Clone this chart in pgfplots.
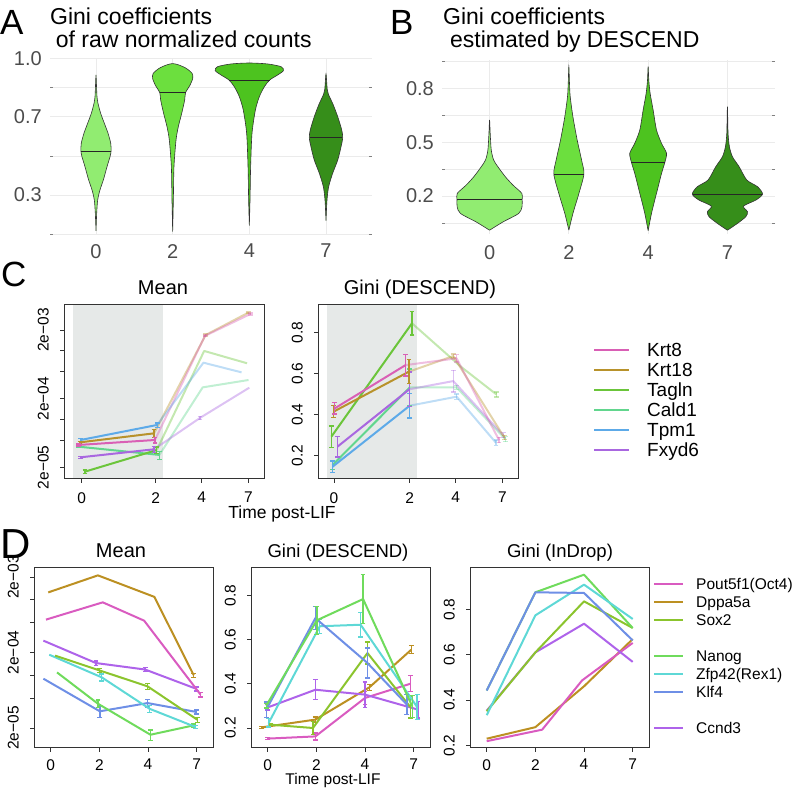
\documentclass[border=0pt]{standalone}
\usepackage{fontspec}
\setmainfont{Liberation Sans}
\usepackage{pgfplots}
\usepackage{pgfplotstable}
\pgfplotsset{compat=1.18}

% violin fills
\definecolor{vzero}{HTML}{91EC71}
\definecolor{vtwo}{HTML}{6CDF3E}
\definecolor{vfour}{HTML}{4DC31F}
\definecolor{vseven}{HTML}{368E1A}
\definecolor{gridc}{HTML}{EBEBEB}
\definecolor{shade}{HTML}{E6E9E8}
% panel C genes
\definecolor{krta}{HTML}{D95FB5}
\definecolor{krtb}{HTML}{B8922B}
\definecolor{tagln}{HTML}{6BC53A}
\definecolor{cald}{HTML}{62D68E}
\definecolor{tpm}{HTML}{5DAAE8}
\definecolor{fxyd}{HTML}{A967E0}
% panel D genes
\definecolor{pou}{HTML}{D95BC0}
\definecolor{dppa}{HTML}{BC9022}
\definecolor{sox}{HTML}{8BC42D}
\definecolor{nanog}{HTML}{6FDB5C}
\definecolor{zfp}{HTML}{5ED8D6}
\definecolor{klf}{HTML}{6E8FE6}
\definecolor{ccnd}{HTML}{AE63EA}

\newcommand{\fs}[1]{\fontsize{#1bp}{#1bp}\selectfont}

% violin outlines: value v, half width w (category units), side s
% (right side going up, then left side coming down)
\pgfplotstableread[row sep=\\]{
v w s\\
0.116 0 1\\ 0.206 0.009 1\\ 0.274 0.022 1\\ 0.326 0.052 1\\ 0.377 0.096 1\\ 0.445 0.144 1\\
0.496 0.183 1\\ 0.525 0.197 1\\ 0.565 0.192 1\\ 0.616 0.157 1\\ 0.667 0.109 1\\ 0.718 0.061 1\\
0.769 0.026 1\\ 0.804 0.013 1\\ 0.855 0.007 1\\ 0.915 0 1\\
0.855 0.007 -1\\ 0.804 0.013 -1\\ 0.769 0.026 -1\\ 0.718 0.061 -1\\ 0.667 0.109 -1\\ 0.616 0.157 -1\\
0.565 0.192 -1\\ 0.525 0.197 -1\\ 0.496 0.183 -1\\ 0.445 0.144 -1\\ 0.377 0.096 -1\\ 0.326 0.052 -1\\
0.274 0.022 -1\\ 0.206 0.009 -1\\ 0.116 0 -1\\
}\vAa
\pgfplotstableread[row sep=\\]{
v w s\\
0.112 0 1\\ 0.274 0.009 1\\ 0.445 0.017 1\\ 0.582 0.044 1\\ 0.650 0.074 1\\ 0.718 0.118 1\\
0.787 0.157 1\\ 0.824 0.168 1\\ 0.863 0.227 1\\ 0.898 0.262 1\\ 0.923 0.253 1\\ 0.949 0.175 1\\
0.966 0.079 1\\ 0.973 0 1\\
0.966 0.079 -1\\ 0.949 0.175 -1\\ 0.923 0.253 -1\\ 0.898 0.262 -1\\ 0.863 0.227 -1\\ 0.824 0.168 -1\\
0.787 0.157 -1\\ 0.718 0.118 -1\\ 0.650 0.074 -1\\ 0.582 0.044 -1\\ 0.445 0.017 -1\\ 0.274 0.009 -1\\
0.112 0 -1\\
}\vAb
\pgfplotstableread[row sep=\\]{
v w s\\
0.143 0 1\\ 0.274 0.009 1\\ 0.445 0.017 1\\ 0.616 0.035 1\\ 0.735 0.079 1\\ 0.804 0.131 1\\
0.855 0.197 1\\ 0.889 0.266 1\\ 0.915 0.371 1\\ 0.937 0.445 1\\ 0.957 0.415 1\\ 0.971 0.240 1\\
0.976 0 1\\
0.971 0.240 -1\\ 0.957 0.415 -1\\ 0.937 0.445 -1\\ 0.915 0.371 -1\\ 0.889 0.266 -1\\ 0.855 0.197 -1\\
0.804 0.131 -1\\ 0.735 0.079 -1\\ 0.616 0.035 -1\\ 0.445 0.017 -1\\ 0.274 0.009 -1\\ 0.143 0 -1\\
}\vAc
\pgfplotstableread[row sep=\\]{
v w s\\
0.168 0 1\\ 0.274 0.013 1\\ 0.343 0.035 1\\ 0.411 0.087 1\\ 0.479 0.153 1\\ 0.548 0.197 1\\
0.594 0.218 1\\ 0.633 0.205 1\\ 0.701 0.153 1\\ 0.769 0.087 1\\ 0.804 0.044 1\\ 0.838 0.017 1\\
0.920 0 1\\
0.838 0.017 -1\\ 0.804 0.044 -1\\ 0.769 0.087 -1\\ 0.701 0.153 -1\\ 0.633 0.205 -1\\ 0.594 0.218 -1\\
0.548 0.197 -1\\ 0.479 0.153 -1\\ 0.411 0.087 -1\\ 0.343 0.035 -1\\ 0.274 0.013 -1\\ 0.168 0 -1\\
}\vAd
\pgfplotstableread[row sep=\\]{
v w s\\
0.010 0 1\\ 0.056 0.169 1\\ 0.103 0.367 1\\ 0.140 0.409 1\\ 0.181 0.411 1\\ 0.215 0.407 1\\
0.261 0.295 1\\ 0.308 0.198 1\\ 0.363 0.105 1\\ 0.401 0.051 1\\ 0.457 0.021 1\\ 0.549 0.008 1\\
0.624 0 1\\
0.549 0.008 -1\\ 0.457 0.021 -1\\ 0.401 0.051 -1\\ 0.363 0.105 -1\\ 0.308 0.198 -1\\ 0.261 0.295 -1\\
0.215 0.407 -1\\ 0.181 0.411 -1\\ 0.140 0.409 -1\\ 0.103 0.367 -1\\ 0.056 0.169 -1\\ 0.010 0 -1\\
}\vBa
\pgfplotstableread[row sep=\\]{
v w s\\
0.010 0 1\\ 0.103 0.051 1\\ 0.215 0.127 1\\ 0.323 0.190 1\\ 0.401 0.160 1\\ 0.512 0.105 1\\
0.642 0.051 1\\ 0.754 0.017 1\\ 0.828 0.008 1\\ 0.921 0 1\\
0.828 0.008 -1\\ 0.754 0.017 -1\\ 0.642 0.051 -1\\ 0.512 0.105 -1\\ 0.401 0.160 -1\\ 0.323 0.190 -1\\
0.215 0.127 -1\\ 0.103 0.051 -1\\ 0.010 0 -1\\
}\vBb
\pgfplotstableread[row sep=\\]{
v w s\\
0.007 0 1\\ 0.103 0.042 1\\ 0.215 0.105 1\\ 0.326 0.169 1\\ 0.388 0.211 1\\ 0.438 0.232 1\\
0.493 0.169 1\\ 0.568 0.105 1\\ 0.679 0.063 1\\ 0.772 0.025 1\\ 0.846 0.008 1\\ 0.921 0 1\\
0.846 0.008 -1\\ 0.772 0.025 -1\\ 0.679 0.063 -1\\ 0.568 0.105 -1\\ 0.493 0.169 -1\\ 0.438 0.232 -1\\
0.388 0.211 -1\\ 0.326 0.169 -1\\ 0.215 0.105 -1\\ 0.103 0.042 -1\\ 0.007 0 -1\\
}\vBc
\pgfplotstableread[row sep=\\]{
v w s\\
0.010 0 1\\ 0.048 0.127 1\\ 0.085 0.232 1\\ 0.113 0.253 1\\ 0.144 0.203 1\\ 0.178 0.360 1\\
0.211 0.443 1\\ 0.252 0.380 1\\ 0.289 0.245 1\\ 0.363 0.148 1\\ 0.419 0.063 1\\ 0.475 0.025 1\\
0.549 0.008 1\\ 0.698 0 1\\
0.549 0.008 -1\\ 0.475 0.025 -1\\ 0.419 0.063 -1\\ 0.363 0.148 -1\\ 0.289 0.245 -1\\ 0.252 0.380 -1\\
0.211 0.443 -1\\ 0.178 0.360 -1\\ 0.144 0.203 -1\\ 0.113 0.253 -1\\ 0.085 0.232 -1\\ 0.048 0.127 -1\\
0.010 0 -1\\
}\vBd

\pgfplotsset{
  vax/.style={scale only axis, anchor=north west, axis line style={draw=none}, major tick length=0pt,
    xmin=0.4, xmax=4.6, xtick={1,2,3,4}, xticklabels={0,2,4,7},
    xmajorgrids, ymajorgrids, yminorgrids,
    major grid style={gridc, line width=0.8bp}, minor grid style={gridc, line width=0.5bp},
    tick label style={font=\fs{20}, text=black!70, inner sep=0pt},
    yticklabel style={anchor=east, xshift=-8bp},
    xticklabel style={anchor=north, yshift=-10bp}},
  vbody/.style={draw=black!80, line width=0.6bp, smooth, tension=0.45},
  vmed/.style={black!85, line width=0.7bp},
  rax/.style={scale only axis, anchor=north west, axis on top, tick pos=left, tick align=outside,
    major tick length=4bp, xminorticks=false, yminorticks=false,
    axis line style={black!80, line width=1bp}, every tick/.style={black!80, line width=0.9bp},
    tick label style={font=\fs{15.5}, inner sep=0pt},
    yticklabel style={xshift=-11bp, rotate=90, anchor=south},
    xticklabel style={anchor=north, yshift=-8bp},
    every axis plot/.append style={mark=none, line width=2bp, line join=round}},
  g/.style={forget plot, color=#1},
  eb/.style={error bars/y dir=both, error bars/y explicit,
    error bars/error bar style={line width=1.3bp},
    error bars/error mark options={rotate=90, mark size=2.4bp, line width=1.3bp}},
  fade/.style={opacity=0.4},
  leg/.style={legend cell align=left,
    legend image code/.code={\draw[##1, line width=2.2bp] (0bp,0bp) -- (#1,0bp);}},
}

\begin{document}
\begin{tikzpicture}
\path[use as bounding box] (0,0) rectangle (796bp,-789bp);

% ---------- A ----------
\begin{axis}[vax, at={(50bp,-58.3bp)}, width=322bp, height=175.7bp,
  ymin=0.1, ymax=1.0, ytick={0.3,0.7,1.0}, yticklabels={0.3,0.7,1.0}, minor ytick={0.1,0.5,0.85}]
\addplot[vbody, fill=vzero] table[x expr=1+\thisrow{s}*\thisrow{w}, y=v]{\vAa};
\addplot[vmed] coordinates {(0.803,0.525) (1.197,0.525)};
\addplot[vbody, fill=vtwo] table[x expr=2+\thisrow{s}*\thisrow{w}, y=v]{\vAb};
\addplot[vmed] coordinates {(1.832,0.824) (2.168,0.824)};
\addplot[vbody, fill=vfour] table[x expr=3+\thisrow{s}*\thisrow{w}, y=v]{\vAc};
\addplot[vmed] coordinates {(2.734,0.889) (3.266,0.889)};
\addplot[vbody, fill=vseven] table[x expr=4+\thisrow{s}*\thisrow{w}, y=v]{\vAd};
\addplot[vmed] coordinates {(3.788,0.594) (4.212,0.594)};
\end{axis}

% ---------- B ----------
\begin{axis}[vax, at={(442bp,-59.5bp)}, width=333bp, height=174.3bp,
  ymin=-0.01, ymax=0.96, ytick={0.2,0.5,0.8}, yticklabels={0.2,0.5,0.8}, minor ytick={0.05,0.35,0.65,0.95},
  xticklabel style={yshift=-2bp}]
\addplot[vbody, fill=vzero] table[x expr=1+\thisrow{s}*\thisrow{w}, y=v]{\vBa};
\addplot[vmed] coordinates {(0.59,0.181) (1.41,0.181)};
\addplot[vbody, fill=vtwo] table[x expr=2+\thisrow{s}*\thisrow{w}, y=v]{\vBb};
\addplot[vmed] coordinates {(1.81,0.323) (2.19,0.323)};
\addplot[vbody, fill=vfour] table[x expr=3+\thisrow{s}*\thisrow{w}, y=v]{\vBc};
\addplot[vmed] coordinates {(2.789,0.388) (3.211,0.388)};
\addplot[vbody, fill=vseven] table[x expr=4+\thisrow{s}*\thisrow{w}, y=v]{\vBd};
\addplot[vmed] coordinates {(3.57,0.211) (4.43,0.211)};
\end{axis}

% ---------- C: mean ----------
\begin{axis}[rax, at={(64bp,-304.5bp)}, width=200bp, height=174bp,
  xmin=-0.478, xmax=4.927, xtick={0,2,3.243,4.503}, xticklabels={0,2,4,7},
  xticklabel style={yshift=-1.5bp},
  ymode=log, ymin=1.374e-5, ymax=4.70e-3,
  ytick={2e-5,5e-5,1e-4,2e-4,5e-4,1e-3,2e-3}, yticklabels={2e−05,,,2e−04,,,2e−03}]
\addplot[forget plot, fill=shade, draw=none] coordinates {(-0.243,1e-6) (2.19,1e-6) (2.19,1) (-0.243,1)};
% days 4 and 7, faded
\addplot[g=krtb, eb, fade] coordinates {(1.955,6.25e-5) (3.35,1.69e-3) +- (0,0.05e-3) (4.50,3.57e-3) +- (0,0.1e-3)};
\addplot[g=krta, eb, fade] coordinates {(1.98,5.0e-5) (3.33,1.64e-3) +- (0,0.05e-3) (4.56,3.42e-3) +- (0,0.1e-3)};
\addplot[g=tagln, eb, fade] coordinates {(2.03,3.57e-5) (3.31,9.9e-4) (4.47,6.55e-4)};
\addplot[g=cald, eb, fade] coordinates {(2.10,3.03e-5) (3.27,2.92e-4) (4.51,3.74e-4)};
\addplot[g=tpm, eb, fade] coordinates {(2.04,8.28e-5) (3.29,6.68e-4) (4.32,4.83e-4)};
\addplot[g=fxyd, eb, fade] coordinates {(1.955,3.66e-5) (3.20,1.05e-4) +- (0,0.06e-4) (4.53,2.89e-4)};
% days 0 and 2
\addplot[g=cald, eb] coordinates {(-0.09,4.0e-5) +- (0,0.15e-5) (2.10,3.03e-5) +- (0,0.4e-5)};
\addplot[g=tagln, eb] coordinates {(0.09,1.73e-5) +- (0,0.1e-5) (2.03,3.57e-5) +- (0,0.4e-5)};
\addplot[g=fxyd, eb] coordinates {(-0.027,2.8e-5) +- (0,0.1e-5) (1.955,3.66e-5) +- (0,0.4e-5)};
\addplot[g=tpm, eb] coordinates {(-0.027,5.0e-5) +- (0,0.2e-5) (2.04,8.28e-5) +- (0,0.6e-5)};
\addplot[g=krtb, eb] coordinates {(-0.045,4.62e-5) +- (0,0.15e-5) (1.955,6.25e-5) +- (0,0.8e-5)};
\addplot[g=krta, eb] coordinates {(-0.09,4.23e-5) +- (0,0.15e-5) (1.98,5.0e-5) +- (0,0.5e-5)};
\end{axis}

% ---------- C: Gini ----------
\begin{axis}[rax, at={(318bp,-304.5bp)}, width=200bp, height=174bp,
  xmin=-0.423, xmax=4.861, xtick={0,2,3.215,4.447}, xticklabels={0,2,4,7},
  xticklabel style={yshift=-1.5bp},
  ymin=0.0888, ymax=0.9376, ytick={0.2,0.4,0.6,0.8}, yticklabels={0.2,0.4,0.6,0.8},
  leg=35bp,
  legend style={at={(1.375,0.7955)}, anchor=north west, draw=none, fill=none, inner sep=0pt, outer sep=0pt,
    row sep=0pt, column sep=17bp, font=\fs{19},
    nodes={inner sep=0pt, text height=16.5bp, text depth=3.5bp}}]
\addplot[forget plot, fill=shade, draw=none] coordinates {(-0.19,0) (2.18,0) (2.18,1) (-0.19,1)};
\addplot[g=tagln, eb, fade] coordinates {(2.06,0.846) (3.36,0.633) (4.29,0.499) +- (0,0.012)};
\addplot[g=cald, eb, fade] coordinates {(2.0,0.533) (3.24,0.533) +- (0,0.01) (4.53,0.280) +- (0,0.012)};
\addplot[g=tpm, eb, fade] coordinates {(2.0,0.444) (3.24,0.488) +- (0,0.013) (4.28,0.263) +- (0,0.013)};
\addplot[g=fxyd, eb, fade] coordinates {(1.99,0.524) (3.15,0.564) +- (0,0.053) (4.47,0.300) +- (0,0.012)};
\addplot[g=krtb, eb, fade] coordinates {(1.98,0.610) (3.15,0.686) +- (0,0.01) (4.50,0.289) +- (0,0.01)};
\addplot[g=krta, eb, fade] coordinates {(1.89,0.642) (3.24,0.675) +- (0,0.018) (4.36,0.276) +- (0,0.013)};
\addplot[g=cald, eb] coordinates {(-0.04,0.154) +- (0,0.02) (2.0,0.533) +- (0,0.09)};
\addplot[g=tpm, eb] coordinates {(-0.04,0.146) +- (0,0.028) (2.0,0.444) +- (0,0.06)};
\addplot[g=fxyd, eb] coordinates {(0.09,0.244) +- (0,0.05) (1.99,0.524) +- (0,0.085)};
\addplot[g=tagln, eb] coordinates {(-0.07,0.293) +- (0,0.052) (2.06,0.846) +- (0,0.057)};
\addplot[g=krtb, eb] coordinates {(-0.01,0.415) +- (0,0.03) (1.98,0.610) +- (0,0.058)};
\addplot[g=krta, eb] coordinates {(0.02,0.431) +- (0,0.028) (1.89,0.642) +- (0,0.053)};
\addlegendimage{krta}\addlegendentry{Krt8}
\addlegendimage{krtb}\addlegendentry{Krt18}
\addlegendimage{tagln}\addlegendentry{Tagln}
\addlegendimage{cald}\addlegendentry{Cald1}
\addlegendimage{tpm}\addlegendentry{Tpm1}
\addlegendimage{fxyd}\addlegendentry{Fxyd6}
\end{axis}

% ---------- D: mean ----------
\begin{axis}[rax, at={(34bp,-567bp)}, width=179.3bp, height=180.5bp,
  xmin=-0.343, xmax=3.341, xtick={0,1,2,3}, xticklabels={0,2,4,7},
  xticklabel style={yshift=0.5bp},
  ymode=log, ymin=1.104e-5, ymax=2.71e-3,
  ytick={2e-5,5e-5,1e-4,2e-4,5e-4,1e-3,2e-3}, yticklabels={2e−05,,,2e−04,,,2e−03}]
\addplot[g=klf, eb] coordinates {(-0.15,9.0e-5) (1.01,3.33e-5) +- (0,0.6e-5) (1.99,4.28e-5) +- (0,0.5e-5) (3.0,3.26e-5) +- (0,0.2e-5)};
\addplot[g=nanog, eb] coordinates {(0.13,1.09e-4) (0.97,4.2e-5) +- (0,0.5e-5) (2.05,1.63e-5) +- (0,0.25e-5) (2.94,2.17e-5) +- (0,0.1e-5)};
\addplot[g=zfp, eb] coordinates {(-0.03,1.87e-4) (1.05,9.37e-5) +- (0,1e-5) (2.03,3.6e-5) +- (0,0.4e-5) (2.98,2.06e-5) +- (0,0.1e-5)};
\addplot[g=sox, eb] coordinates {(0.09,1.82e-4) (1.0,1.16e-4) +- (0,0.8e-5) (1.99,7.13e-5) +- (0,0.6e-5) (3.01,2.58e-5) +- (0,0.2e-5)};
\addplot[g=ccnd, eb] coordinates {(-0.15,2.87e-4) (0.93,1.45e-4) +- (0,0.1e-4) (1.94,1.19e-4) +- (0,0.08e-4) (3.0,6.58e-5) +- (0,0.4e-5)};
\addplot[g=pou, eb] coordinates {(-0.097,5.45e-4) (1.07,9.23e-4) (1.92,5.28e-4) (3.08,5.53e-5) +- (0,0.4e-5)};
\addplot[g=dppa, eb] coordinates {(-0.05,1.25e-3) (0.97,2.10e-3) (2.13,1.09e-3) (2.94,9.98e-5) +- (0,0.6e-5)};
\end{axis}

% ---------- D: Gini (DESCEND) ----------
\begin{axis}[rax, at={(251bp,-567bp)}, width=179.3bp, height=180.5bp,
  xmin=-0.343, xmax=3.341, xtick={0,1,2,3}, xticklabels={0,2,4,7},
  xticklabel style={yshift=0.5bp},
  ymin=0.1118, ymax=0.928, ytick={0.2,0.4,0.6,0.8}, yticklabels={0.2,0.4,0.6,0.8}]
\addplot[g=pou, eb] coordinates {(0.0,0.152) +- (0,0.005) (0.98,0.162) +- (0,0.016) (2.0,0.336) +- (0,0.03) (2.93,0.40) +- (0,0.036)};
\addplot[g=dppa, eb] coordinates {(-0.12,0.203) +- (0,0.005) (0.98,0.238) +- (0,0.012) (2.09,0.384) +- (0,0.013) (2.95,0.554) +- (0,0.018)};
\addplot[g=ccnd, eb] coordinates {(0.0,0.293) +- (0,0.012) (0.98,0.373) +- (0,0.045) (2.0,0.351) +- (0,0.057) (3.09,0.283) +- (0,0.038)};
\addplot[g=sox, eb] coordinates {(0.05,0.215) +- (0,0.005) (0.93,0.200) +- (0,0.028) (2.05,0.539) +- (0,0.05) (2.93,0.295) +- (0,0.05)};
\addplot[g=zfp, eb] coordinates {(0.02,0.223) +- (0,0.019) (1.07,0.660) +- (0,0.032) (1.91,0.667) +- (0,0.055) (3.07,0.295) +- (0,0.056)};
\addplot[g=klf, eb] coordinates {(-0.03,0.283) +- (0,0.034) (0.98,0.697) +- (0,0.053) (2.05,0.494) +- (0,0.068) (2.86,0.306) +- (0,0.045)};
\addplot[g=nanog, eb] coordinates {(-0.03,0.301) +- (0,0.01) (1.01,0.687) +- (0,0.063) (1.96,0.783) +- (0,0.11) (2.97,0.298) +- (0,0.05)};
\end{axis}

% ---------- D: Gini (InDrop) ----------
\begin{axis}[rax, at={(470bp,-567bp)}, width=179.3bp, height=180.5bp,
  xmin=-0.343, xmax=3.341, xtick={0,1,2,3}, xticklabels={0,2,4,7},
  xticklabel style={yshift=0.5bp},
  ymin=0.190, ymax=0.989, ytick={0.2,0.4,0.6,0.8}, yticklabels={0.2,0.4,0.6,0.8},
  leg=29bp,
  legend style={at={(1.0206,0.9557)}, anchor=north west, draw=none, fill=none, inner sep=0pt, outer sep=0pt,
    row sep=0pt, column sep=12bp, font=\fs{15.5},
    nodes={inner sep=0pt, text height=14.5bp, text depth=3.5bp}}]
\addplot[g=dppa] coordinates {(0,0.229) (1,0.280) (2,0.461) (3,0.670)};
\addplot[g=pou] coordinates {(0,0.218) (1.14,0.269) (1.96,0.487) (3,0.653)};
\addplot[g=ccnd] coordinates {(0,0.353) (1,0.611) (2,0.738) (3,0.569)};
\addplot[g=sox] coordinates {(0,0.350) (1,0.611) (2,0.837) (3,0.719)};
\addplot[g=nanog] coordinates {(0,0.442) (1,0.877) (2,0.955) (3,0.719)};
\addplot[g=zfp] coordinates {(0,0.333) (1,0.775) (2,0.911) (3,0.759)};
\addplot[g=klf] coordinates {(0,0.442) (1,0.877) (2,0.874) (3,0.664)};
\addlegendimage{pou}\addlegendentry{Pout5f1(Oct4)}
\addlegendimage{dppa}\addlegendentry{Dppa5a}
\addlegendimage{sox}\addlegendentry{Sox2}
\addlegendimage{empty legend}\addlegendentry{~}
\addlegendimage{nanog}\addlegendentry{Nanog}
\addlegendimage{zfp}\addlegendentry{Zfp42(Rex1)}
\addlegendimage{klf}\addlegendentry{Klf4}
\addlegendimage{empty legend}\addlegendentry{~}
\addlegendimage{ccnd}\addlegendentry{Ccnd3}
\end{axis}

% ---------- panel letters and titles ----------
\node[anchor=base west, inner sep=0pt] at (0bp,-34bp) {\fs{35}A};
\node[anchor=base west, inner sep=0pt] at (390bp,-34bp) {\fs{35}B};
\node[anchor=base west, inner sep=0pt] at (1bp,-286bp) {\fs{35}C};
\node[anchor=base west, inner sep=0pt] at (0bp,-558bp) {\fs{42}D};
\node[anchor=base west, inner sep=0pt] at (50bp,-24bp) {\fs{23}Gini coefficients};
\node[anchor=base west, inner sep=0pt] at (55.7bp,-47bp) {\fs{23}of raw normalized counts};
\node[anchor=base west, inner sep=0pt] at (443bp,-24bp) {\fs{23}Gini coefficients};
\node[anchor=base west, inner sep=0pt] at (450bp,-47bp) {\fs{23}estimated by DESCEND};
\node[anchor=base, inner sep=0pt] at (163bp,-294bp) {\fs{20}Mean};
\node[anchor=base, inner sep=0pt] at (420bp,-294bp) {\fs{20}Gini (DESCEND)};
\node[anchor=base, inner sep=0pt] at (282bp,-518.5bp) {\fs{17.5}Time post-LIF};
\node[anchor=base, inner sep=0pt] at (121bp,-557bp) {\fs{20}Mean};
\node[anchor=base, inner sep=0pt] at (338bp,-557bp) {\fs{18.5}Gini (DESCEND)};
\node[anchor=base, inner sep=0pt] at (560bp,-557bp) {\fs{18.5}Gini (InDrop)};
\node[anchor=base, inner sep=0pt] at (333bp,-784.5bp) {\fs{15.5}Time post-LIF};
\end{tikzpicture}
\end{document}
